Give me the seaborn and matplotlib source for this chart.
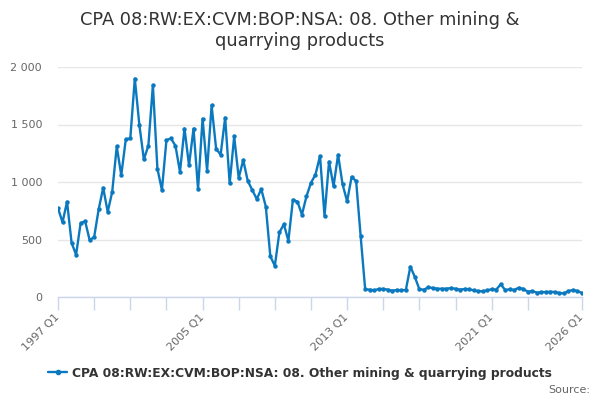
import matplotlib
matplotlib.use("Agg")
import matplotlib.pyplot as plt
import seaborn as sns
import pandas as pd

series_name = "CPA 08:RW:EX:CVM:BOP:NSA: 08. Other mining & quarrying products"
title = "CPA 08:RW:EX:CVM:BOP:NSA: 08. Other mining &\nquarrying products"

years = list(range(1997, 2027))
quarters = [f"{y} Q{q}" for y in years for q in range(1, 5)][:117]

values = [
    771, 650, 829, 472, 368, 642, 659, 495, 521, 763, 950, 740, 915, 1309, 1059, 1370,
    1379, 1899, 1499, 1197, 1315, 1842, 1117, 930, 1364, 1379, 1315, 1088, 1465, 1145, 1465, 938,
    1551, 1099, 1666, 1289, 1237, 1560, 987, 1396, 1036, 1191, 1010, 930, 852, 938, 786, 354,
    271, 561, 633, 489, 846, 829, 717, 875, 993, 1065, 1226, 705, 1177, 964, 1237, 979,
    832, 1045, 1007, 527, 67, 64, 58, 70, 70, 64, 55, 61, 58, 61, 264, 174,
    67, 64, 84, 78, 72, 72, 72, 78, 72, 64, 70, 67, 58, 52, 49, 58,
    67, 64, 110, 61, 67, 61, 81, 70, 46, 52, 38, 43, 43, 46, 43, 35,
    32, 52, 61, 52, 35,
]

tick_labels = ["1997 Q1", "2005 Q1", "2013 Q1", "2021 Q1", "2026 Q1"]
y_ticks = [0, 500, 1000, 1500, 2000]

df = pd.DataFrame({"period": quarters, "value": values})
df["pos"] = range(len(df))

sns.set_theme(style="white")
plt.rcParams["font.family"] = ["DejaVu Sans"]

fig = plt.figure(figsize=(6, 4), dpi=100)
ax = fig.add_axes([0.0967, 0.2575, 0.8733, 0.575])

color = "#0b79bf"
sns.lineplot(data=df, x="pos", y="value", ax=ax, color=color, linewidth=1.7,
             marker="o", markersize=3.2, markeredgewidth=0, label=series_name,
             legend=False)

ax.set_xlim(0, len(df) - 1)
ax.set_ylim(0, 2000)
ax.set_yticks(y_ticks)
ax.set_yticklabels([f"{v:,}".replace(",", " ") for v in y_ticks])
ax.grid(axis="y", color="#e6e6e6", linewidth=1)
ax.grid(axis="x", visible=False)

label_pos = [quarters.index(t) for t in tick_labels]
all_ticks = sorted(set(list(range(0, 105, 8)) + label_pos))
ax.set_xticks(all_ticks)
ax.set_xticklabels([quarters[p] if p in label_pos else "" for p in all_ticks],
                   rotation=45, ha="right", va="center", rotation_mode="anchor")
ax.tick_params(axis="x", colors="#ccd6eb", length=9, width=1, labelcolor="#666666",
               labelsize=8, pad=4.5, direction="out", bottom=True)
ax.tick_params(axis="y", length=0, labelcolor="#666666", labelsize=8, pad=11.5)
for lab in ax.get_yticklabels():
    lab.set_horizontalalignment("right")

for s in ["top", "right", "left"]:
    ax.spines[s].set_visible(False)
ax.spines["bottom"].set_color("#ccd6eb")
ax.spines["bottom"].set_linewidth(1)
ax.set_xlabel("")
ax.set_ylabel("")

fig.suptitle(title, x=0.5, y=0.972, fontsize=12.8, color="#333333", linespacing=1.2)

handle = plt.Line2D([], [], color=color, linewidth=1.7, marker="o", markersize=3)
leg = fig.legend([handle], [series_name], loc="center", bbox_to_anchor=(0.5, 0.067),
                 frameon=False, handlelength=1.5, handletextpad=0.4,
                 prop={"weight": "bold", "size": 8.8})
for t in leg.get_texts():
    t.set_color("#333333")

fig.text(0.983, 0.025, "Source:", ha="right", va="center", fontsize=8, color="#666666")

fig.savefig("out.png", dpi=100)
